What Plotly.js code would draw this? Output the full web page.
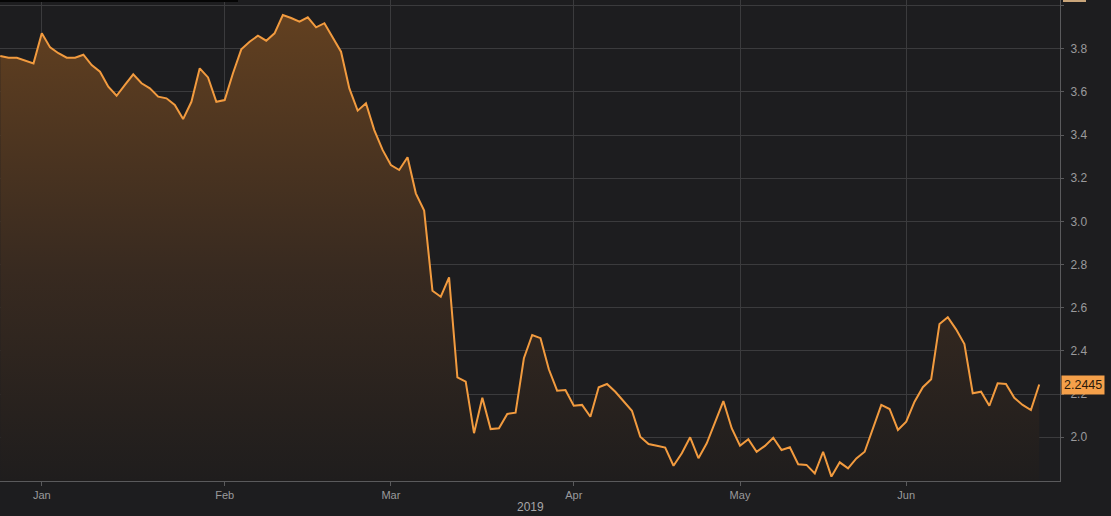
<!DOCTYPE html>
<html>
<head>
<meta charset="utf-8">
<script src="https://cdn.plot.ly/plotly-3.0.1.min.js"></script>
<style>
  html, body { margin: 0; padding: 0; background: #1d1d1f; }
  #chart { width: 1111px; height: 516px; }
</style>
</head>
<body>
<div id="chart"></div>
<script>
// Daily closing values (one per trading session, late Dec 2018 – late Jun 2019)
const values = [
  3.766, 3.758, 3.758, 3.745, 3.732, 3.871, 3.806, 3.779, 3.758, 3.758,
  3.772, 3.724, 3.693, 3.624, 3.582, 3.632, 3.681, 3.640, 3.616, 3.578,
  3.570, 3.539, 3.474, 3.554, 3.709, 3.667, 3.554, 3.562, 3.686, 3.797,
  3.832, 3.860, 3.837, 3.871, 3.956, 3.942, 3.925, 3.945, 3.899, 3.918,
  3.854, 3.786, 3.616, 3.513, 3.547, 3.423, 3.331, 3.261, 3.238, 3.297,
  3.130, 3.050, 2.679, 2.651, 2.741, 2.278, 2.258, 2.019, 2.183, 2.038,
  2.042, 2.108, 2.114, 2.366, 2.474, 2.459, 2.315, 2.216, 2.219, 2.146,
  2.150, 2.095, 2.232, 2.247, 2.211, 2.165, 2.123, 2.003, 1.969, 1.961,
  1.952, 1.868, 1.926, 2.000, 1.903, 1.972, 2.068, 2.168, 2.042, 1.961,
  1.991, 1.933, 1.960, 1.998, 1.941, 1.954, 1.875, 1.872, 1.833, 1.933,
  1.818, 1.884, 1.856, 1.902, 1.933, 2.042, 2.150, 2.131, 2.034, 2.072,
  2.165, 2.232, 2.269, 2.525, 2.556, 2.500, 2.432, 2.204, 2.211, 2.146,
  2.250, 2.247, 2.183, 2.150, 2.126, 2.2445
];
// Session index at which each month starts, and its label
const monthLabels = ['Jan', 'Feb', 'Mar', 'Apr', 'May', 'Jun'];
const monthStartIdx = [5, 27, 47, 69, 89, 109];
const yearLabel = '2019';
// Y tick values and labels
const yTickVals = [2.0, 2.2, 2.4, 2.6, 2.8, 3.0, 3.2, 3.4, 3.6, 3.8, 4.0];
const yTickText = ['2.0', '2.2', '2.4', '2.6', '2.8', '3.0', '3.2', '3.4', '3.6', '3.8', ''];
const lastValue = values[values.length - 1];
const lastLabel = '2.2445';

const xIdx = values.map((_, i) => i);

const trace = {
  x: xIdx,
  y: values,
  type: 'scatter',
  mode: 'lines',
  line: { color: '#f29b3f', width: 2 },
  fill: 'tozeroy',
  fillgradient: {
    type: 'vertical',
    start: 1.8,
    stop: 3.96,
    colorscale: [
      [0, 'rgb(31,29,29)'],
      [0.45, 'rgb(56,42,32)'],
      [1, 'rgb(98,64,32)']
    ]
  },
  hoverinfo: 'skip'
};

const gridCol = '#3b3b3d';
const axisCol = '#5a5a5c';
const tickFont = { family: 'Liberation Sans, Arial, sans-serif', size: 11, color: '#9a9a9c' };

const layout = {
  width: 1111,
  height: 516,
  margin: { l: 0, r: 51, t: 0, b: 35, pad: 0 },
  paper_bgcolor: '#1d1d1f',
  plot_bgcolor: '#1d1d1f',
  showlegend: false,
  xaxis: {
    range: [-0.03, 127.5],
    tickvals: monthStartIdx,
    ticktext: monthLabels,
    showgrid: true,
    gridcolor: gridCol,
    gridwidth: 1,
    zeroline: false,
    showline: true,
    linecolor: axisCol,
    linewidth: 1,
    ticks: 'outside',
    ticklen: 4,
    tickcolor: axisCol,
    tickfont: tickFont,
    fixedrange: true
  },
  yaxis: {
    side: 'right',
    range: [1.7975, 4.0255],
    tickvals: yTickVals,
    ticktext: yTickText,
    showgrid: true,
    gridcolor: gridCol,
    gridwidth: 1,
    zeroline: false,
    showline: true,
    linecolor: axisCol,
    linewidth: 1,
    ticks: 'outside',
    ticklen: 3,
    tickcolor: axisCol,
    tickfont: Object.assign({}, tickFont, { size: 12 }),
    ticklabelstandoff: 4,
    fixedrange: true
  },
  annotations: [
    {
      xref: 'paper', yref: 'y',
      x: 1, y: lastValue,
      xanchor: 'left', yanchor: 'middle',
      xshift: 1,
      text: lastLabel,
      showarrow: false,
      bgcolor: '#f5a04a',
      borderpad: 2,
      font: { family: 'Liberation Sans, Arial, sans-serif', size: 12.5, color: '#2a1a0a' }
    },
    {
      xref: 'paper', yref: 'paper',
      x: 530 / 1060, y: -26 / 481,
      xanchor: 'center', yanchor: 'middle',
      text: yearLabel,
      showarrow: false,
      font: { family: 'Liberation Sans, Arial, sans-serif', size: 12, color: '#a6a6a8' }
    }
  ],
  shapes: [
    {
      type: 'rect', xref: 'paper', yref: 'paper',
      x0: 0, x1: 238 / 1060, y0: 1 - 2 / 481, y1: 1,
      fillcolor: '#050505', line: { width: 0 }
    },
    {
      type: 'rect', xref: 'paper', yref: 'paper',
      x0: 1063 / 1060, x1: 1086 / 1060, y0: 1 - 2 / 481, y1: 1,
      fillcolor: '#c9a57a', line: { width: 0 }
    }
  ]
};

Plotly.newPlot('chart', [trace], layout, { displayModeBar: false, staticPlot: true });
</script>
</body>
</html>
